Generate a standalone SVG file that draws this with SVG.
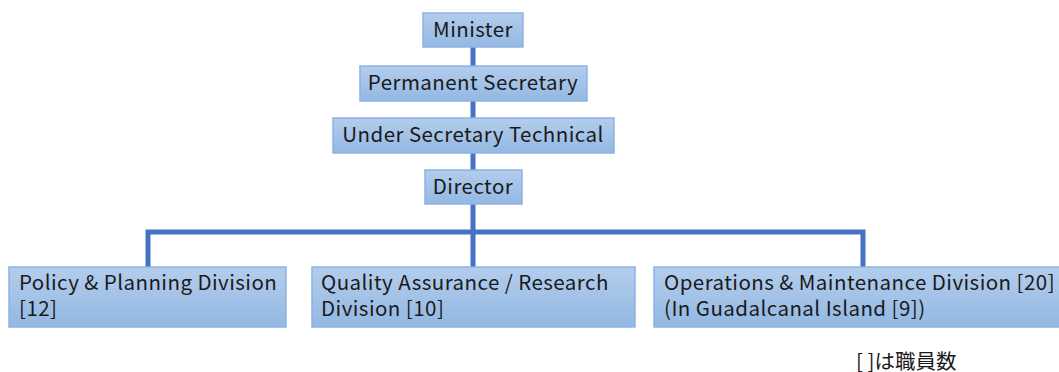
<svg xmlns="http://www.w3.org/2000/svg" width="1059" height="372" viewBox="0 0 1059 372">
  <style>
    .box { fill: url(#boxFill); stroke: #8db3e2; stroke-width: 1.5; }
    .lbl { font-family: "Noto Sans CJK JP", "Noto Sans", sans-serif; font-size: 20.5px; letter-spacing: 0.45px; fill: #1a1a1a; }
    .mid { text-anchor: middle; }
    .link { fill: none; stroke: #4472c4; stroke-width: 5; }
  </style>
  <defs>
    <linearGradient id="boxFill" x1="0" y1="0" x2="0" y2="1">
      <stop offset="0" stop-color="#b3cdec"/>
      <stop offset="1" stop-color="#93b8e3"/>
    </linearGradient>
  </defs>

  <!-- reporting lines -->
  <g id="connectors">
    <line class="link" x1="473" y1="47" x2="473" y2="267"/>
    <polyline class="link" points="148,267 148,232 863,232 863,267"/>
  </g>

  <g id="minister">
    <rect class="box" x="423" y="13" width="100" height="34"/>
    <text class="lbl mid" x="473" y="37">Minister</text>
  </g>
  <g id="permanent-secretary">
    <rect class="box" x="360" y="66" width="227" height="35"/>
    <text class="lbl mid" x="473" y="90">Permanent Secretary</text>
  </g>
  <g id="under-secretary">
    <rect class="box" x="333" y="118" width="281" height="35"/>
    <text class="lbl mid" x="473" y="142">Under Secretary Technical</text>
  </g>
  <g id="director">
    <rect class="box" x="425" y="170" width="97" height="34"/>
    <text class="lbl mid" x="473" y="194">Director</text>
  </g>

  <g id="policy-planning">
    <rect class="box" x="9" y="267" width="277" height="60"/>
    <text class="lbl" x="19" y="290">Policy &amp; Planning Division</text>
    <text class="lbl" x="19" y="316">[12]</text>
  </g>
  <g id="quality-assurance">
    <rect class="box" x="312" y="267" width="323" height="60"/>
    <text class="lbl" x="321" y="290">Quality Assurance / Research</text>
    <text class="lbl" x="321" y="316">Division [10]</text>
  </g>
  <g id="operations-maintenance">
    <rect class="box" x="654" y="267" width="410" height="60"/>
    <text class="lbl" x="664" y="290">Operations &amp; Maintenance Division [20]</text>
    <text class="lbl" x="664" y="316">(In Guadalcanal Island [9])</text>
  </g>

  <text class="lbl" x="856" y="369" style="letter-spacing:0">[  ]は職員数</text>
</svg>
